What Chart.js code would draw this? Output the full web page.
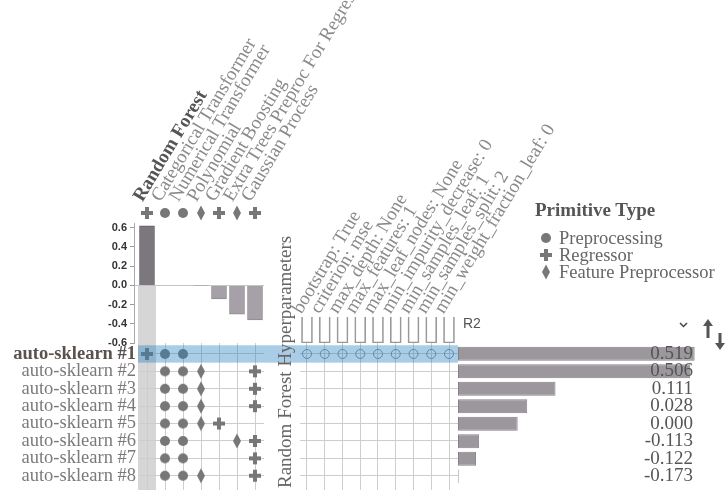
<!DOCTYPE html>
<html lang="es">
<head>
<meta charset="utf-8">
<title>Pipeline profiler</title>
<script src="https://cdn.jsdelivr.net/npm/chart.js@4.4.1/dist/chart.umd.min.js"></script>
<style>
  html, body { margin: 0; padding: 0; background: #fff; overflow: hidden; }
  #app { position: relative; width: 726px; height: 490px; overflow: hidden;
         font-family: "Liberation Serif", "Times New Roman", serif; }
  #app canvas { position: absolute; }
  .rot { position: absolute; white-space: nowrap; font-size: 19px; line-height: 18px;
         color: #8a8a8a; transform-origin: 0 100%; transform: rotate(-59deg); }
  .txt { position: absolute; white-space: nowrap; font-size: 18.5px; line-height: 20px; color: #666; }
</style>
</head>
<body>
<div id="app"></div>
<script>
// ---- Datos del gráfico ----
const primitives = ['Random Forest', 'Categorical Transformer', 'Numerical Transformer', 'Polynomial',
                    'Gradient Boosting', 'Extra Trees Preproc For Regression', 'Gaussian Process'];
const primitiveTypes = ['Regressor', 'Preprocessing', 'Preprocessing', 'Feature Preprocessor',
                        'Regressor', 'Feature Preprocessor', 'Regressor'];
const importance = [0.62, 0, 0, -0.005, -0.14, -0.30, -0.36];   // importancia de cada primitiva
const importanceTicks = [0.6, 0.4, 0.2, 0.0, -0.2, -0.4, -0.6];
const pipelines = ['auto-sklearn #1', 'auto-sklearn #2', 'auto-sklearn #3', 'auto-sklearn #4',
                   'auto-sklearn #5', 'auto-sklearn #6', 'auto-sklearn #7', 'auto-sklearn #8'];
// columnas (primitivas) que usa cada pipeline
const pipelineSteps = [[0, 1, 2], [1, 2, 3, 6], [1, 2, 3, 6], [1, 2, 3, 6],
                       [1, 2, 3, 4], [1, 2, 5, 6], [1, 2, 6], [1, 2, 3, 6]];
const hyperparams = ['bootstrap: True', 'criterion: mse', 'max_depth: None', 'max_features: 1',
                     'max_leaf_nodes: None', 'min_impurity_decrease: 0', 'min_samples_leaf: 1',
                     'min_samples_split: 2', 'min_weight_fraction_leaf: 0'];
const hyperFrame = [1, 1, 1, 1, 1, 1, 1, 1, 1];   // marcos vacíos sobre cada hiperparámetro
const r2Scores = [0.519, 0.506, 0.111, 0.028, 0.000, -0.113, -0.122, -0.173];
const legendTypes = ['Preprocessing', 'Regressor', 'Feature Preprocessor'];
const selectedPrimitive = 0;   // columna resaltada en gris
const selectedPipeline = 0;    // fila resaltada en azul

// ---- Estilos ----
const ICON_COLOR = '#777';
const GRID = '#cdcdcd';
const GRIS_SELECCION = '#d6d6d6';
const AZUL_SELECCION = 'rgba(40, 130, 192, 0.4)';
const SERIF = "'Liberation Serif', 'Times New Roman', serif";

const app = document.getElementById('app');

// Crea un canvas posicionado de forma absoluta y devuelve su contexto
function crearCanvas(left, top, width, height) {
    const c = document.createElement('canvas');
    c.width = width;
    c.height = height;
    c.style.left = left + 'px';
    c.style.top = top + 'px';
    c.style.width = width + 'px';
    c.style.height = height + 'px';
    app.appendChild(c);
    return c.getContext('2d');
}

// Dibuja el icono de cada tipo de primitiva (se usa como pointStyle)
function crearIcono(tipo) {
    const c = document.createElement('canvas');
    c.width = 14;
    c.height = 16;
    const g = c.getContext('2d');
    g.fillStyle = ICON_COLOR;
    if (tipo === 'Preprocessing') {
        g.beginPath();
        g.arc(7, 8, 5, 0, Math.PI * 2);
        g.fill();
    } else if (tipo === 'Regressor') {
        g.fillRect(1, 6, 12, 4);
        g.fillRect(5, 2, 4, 12);
    } else {
        g.beginPath();
        g.moveTo(7, 0.5);
        g.lineTo(11, 8);
        g.lineTo(7, 15.5);
        g.lineTo(3, 8);
        g.closePath();
        g.fill();
    }
    return c;
}
const iconos = {};
legendTypes.forEach(t => { iconos[t] = crearIcono(t); });

// Ajusta el tamaño de un eje y quita el relleno que Chart.js reserva para las etiquetas
const fijarEje = (ancho, alto) => axis => {
    if (ancho !== undefined) axis.width = ancho;
    if (alto !== undefined) axis.height = alto;
    axis.paddingTop = axis.paddingBottom = axis.paddingLeft = axis.paddingRight = 0;
};

const base = {
    responsive: false,
    animation: false,
    events: [],
    layout: { autoPadding: false, padding: 0 },
    plugins: { legend: { display: false }, tooltip: { enabled: false } }
};

// ---- Iconos de cabecera de cada primitiva ----
new Chart(crearCanvas(138, 204, 126, 18), {
    type: 'scatter',
    data: { datasets: [{
        data: primitives.map((p, i) => ({ x: i, y: 0.5 })),
        pointStyle: ctx => iconos[primitiveTypes[ctx.dataIndex]],
        pointRadius: 6,
        clip: false
    }] },
    options: { ...base, scales: {
        x: { type: 'linear', min: -0.5, max: 6.5, display: false },
        y: { min: 0, max: 1, display: false }
    } }
});

// ---- Barras de importancia de primitivas ----
const columnaGrisImportancia = {
    id: 'columnaGrisImportancia',
    beforeDraw(chart) {
        const { ctx, chartArea, scales: { x, y } } = chart;
        const izq = x.getPixelForValue(selectedPrimitive - 0.5);
        const der = x.getPixelForValue(selectedPrimitive + 0.5);
        const y0 = y.getPixelForValue(0);
        ctx.save();
        ctx.fillStyle = GRIS_SELECCION;
        ctx.fillRect(izq, y0, der - izq, chartArea.bottom - y0);
        ctx.restore();
    }
};

new Chart(crearCanvas(100, 215, 164, 136), {
    type: 'bar',
    data: { datasets: [{
        data: importance.map((v, i) => ({ x: i, y: v })),
        backgroundColor: importance.map(v => v > 0 ? '#7b777d' : '#a6a1a8'),
        borderColor: importance.map(v => v > 0 ? '#646066' : '#8f8a92'),
        borderWidth: 1,
        barThickness: 15
    }] },
    options: { ...base,
        layout: { autoPadding: false, padding: { top: 8, bottom: 8, left: 0, right: 0 } },
        scales: {
            x: { type: 'linear', offset: false, min: -0.722, max: 6.5, display: false },
            y: {
                min: -0.6, max: 0.65,
                afterBuildTicks: axis => { axis.ticks = importanceTicks.map(v => ({ value: v })); },
                afterFit: fijarEje(34),
                ticks: {
                    autoSkip: false,
                    callback: v => v.toFixed(1),
                    font: { family: "'Liberation Sans', Arial, sans-serif", size: 11, weight: 'bold' },
                    color: '#333',
                    padding: 3
                },
                grid: {
                    color: ctx => (ctx.tick && ctx.tick.value === 0) ? '#c4c4c4' : 'rgba(0,0,0,0)',
                    tickColor: '#999',
                    tickLength: 4
                },
                border: { color: '#aaa' }
            }
        }
    },
    plugins: [columnaGrisImportancia]
});

// ---- Matriz pipeline x primitiva ----
const puntosMatriz = [];
pipelineSteps.forEach((pasos, fila) => pasos.forEach(col => puntosMatriz.push({ x: col, y: fila })));

// Franja azul de la fila seleccionada (se dibuja encima de los símbolos)
const franjaAzul = (hastaBorde) => ({
    id: 'franjaAzul',
    afterDatasetsDraw(chart) {
        const { ctx, chartArea, scales: { x, y } } = chart;
        const arriba = y.getPixelForValue(selectedPipeline - 0.5);
        const abajo = y.getPixelForValue(selectedPipeline + 0.5);
        const izq = hastaBorde ? x.getPixelForValue(selectedPrimitive - 0.5) : chartArea.left;
        const der = hastaBorde ? chart.width : chartArea.right;
        ctx.save();
        ctx.fillStyle = AZUL_SELECCION;
        ctx.fillRect(izq, arriba, der - izq, abajo - arriba);
        ctx.restore();
    }
});

const columnaGrisMatriz = {
    id: 'columnaGrisMatriz',
    beforeDraw(chart) {
        const { ctx, chartArea, scales: { x } } = chart;
        const izq = x.getPixelForValue(selectedPrimitive - 0.5);
        const der = x.getPixelForValue(selectedPrimitive + 0.5);
        ctx.save();
        ctx.fillStyle = GRIS_SELECCION;
        ctx.fillRect(izq, chartArea.top, der - izq, chartArea.bottom - chartArea.top);
        ctx.restore();
    }
};

new Chart(crearCanvas(0, 343, 300, 147), {
    type: 'scatter',
    data: { datasets: [{
        data: puntosMatriz,
        pointStyle: ctx => iconos[primitiveTypes[ctx.raw.x]],
        pointRadius: 6,
        clip: false
    }] },
    options: { ...base,
        layout: { autoPadding: false, padding: { top: 0, bottom: 0, left: 0, right: 36 } },
        scales: {
            x: {
                type: 'linear', min: -0.5, max: 6.5,
                afterBuildTicks: axis => { axis.ticks = primitives.map((p, i) => ({ value: i })); },
                afterFit: fijarEje(undefined, 0),
                ticks: { display: false },
                grid: { color: GRID, drawTicks: false },
                border: { display: false }
            },
            y: {
                type: 'linear', reverse: true, min: -0.63, max: 7.82,
                afterBuildTicks: axis => { axis.ticks = pipelines.map((p, i) => ({ value: i })); },
                afterFit: fijarEje(138),
                ticks: {
                    autoSkip: false,
                    callback: v => pipelines[v],
                    font: ctx => ({ family: SERIF, size: 18.5, weight: ctx.index === selectedPipeline ? 'bold' : 'normal' }),
                    color: ctx => ctx.index === selectedPipeline ? '#5a524d' : '#7a7a7a',
                    padding: 2
                },
                grid: { color: GRID, drawTicks: false },
                border: { display: false }
            }
        }
    },
    plugins: [columnaGrisMatriz, franjaAzul(true)]
});

// ---- Marcos de hiperparámetros ----
new Chart(crearCanvas(300, 312, 158, 31), {
    type: 'bar',
    data: { datasets: [{
        data: hyperFrame.map((v, i) => ({ x: i, y: v })),
        backgroundColor: 'rgba(255,255,255,0)',
        borderColor: '#999',
        borderWidth: 1,
        borderSkipped: 'top',
        barThickness: 11
    }] },
    options: { ...base,
        layout: { autoPadding: false, padding: { top: 5, bottom: 0, left: 0, right: 0 } },
        scales: {
            x: { type: 'linear', offset: false, min: -0.394, max: 8.507, display: false },
            y: { min: 0, max: 1, display: false }
        }
    }
});

// ---- Matriz de hiperparámetros ----
const puntosHyper = [];
pipelineSteps.forEach((pasos, fila) => {
    if (pasos.includes(0)) hyperparams.forEach((h, col) => puntosHyper.push({ x: col, y: fila }));
});

new Chart(crearCanvas(300, 343, 158, 147), {
    type: 'scatter',
    data: { datasets: [{
        data: puntosHyper,
        pointStyle: 'circle',
        pointRadius: 4.5,
        backgroundColor: 'rgba(0,0,0,0)',
        borderColor: '#8a8a8a',
        borderWidth: 1
    }] },
    options: { ...base,
        scales: {
            x: {
                type: 'linear', min: -0.394, max: 8.507,
                afterBuildTicks: axis => { axis.ticks = hyperparams.map((h, i) => ({ value: i })); },
                afterFit: fijarEje(undefined, 0),
                ticks: { display: false },
                grid: { color: GRID, drawTicks: false },
                border: { display: false }
            },
            y: {
                type: 'linear', reverse: true, min: -0.63, max: 7.82,
                afterBuildTicks: axis => { axis.ticks = pipelines.map((p, i) => ({ value: i })); },
                afterFit: fijarEje(0),
                ticks: { display: false },
                grid: { color: GRID, drawTicks: false },
                border: { display: false }
            }
        }
    },
    plugins: [franjaAzul(false)]
});

// ---- Barras de R2 ----
new Chart(crearCanvas(458, 335, 268, 160), {
    type: 'bar',
    data: {
        labels: pipelines,
        datasets: [{
            data: r2Scores,
            base: -0.175,
            backgroundColor: '#9b979d',
            borderColor: '#858187',
            borderWidth: 1,
            borderSkipped: false,
            barPercentage: 0.8,
            categoryPercentage: 1
        }]
    },
    options: { ...base,
        indexAxis: 'y',
        layout: { autoPadding: false, padding: { top: 10, bottom: 10, left: 0, right: 31 } },
        scales: {
            x: { type: 'linear', min: -0.175, max: 0.52, display: false },
            y: {
                position: 'right',
                afterFit: fijarEje(0),
                ticks: {
                    z: 1,   // los valores se dibujan encima de las barras
                    autoSkip: false,
                    mirror: true,
                    padding: -2,
                    callback: (v, i) => r2Scores[i].toFixed(3),
                    font: { family: SERIF, size: 19 },
                    color: '#555'
                },
                grid: { display: false },
                border: { display: false }
            }
        }
    }
});

// ---- Textos en HTML ----
function agregarTexto(clase, texto, left, top, estilo) {
    const d = document.createElement('div');
    d.className = clase;
    d.textContent = texto;
    d.style.left = left + 'px';
    d.style.top = top + 'px';
    Object.assign(d.style, estilo || {});
    app.appendChild(d);
    return d;
}

// nombres de primitivas inclinados
primitives.forEach((p, i) => {
    const sel = i === selectedPrimitive;
    agregarTexto('rot', p, 147 + 18 * i - 2, 204 - 18,
        sel ? { fontWeight: 'bold', color: '#555' } : {});
});

// nombres de hiperparámetros inclinados
hyperparams.forEach((h, i) => {
    agregarTexto('rot', h, 307 + 17.75 * i - 3, 316 - 18);
});

// título vertical
agregarTexto('txt', 'Random Forest Hyperparameters', 276, 488, {
    fontSize: '19px', lineHeight: '18px', color: '#666', transformOrigin: '0 0', transform: 'rotate(-90deg)'
});

agregarTexto('txt', 'R2', 463, 315, {
    fontFamily: "'Liberation Sans', Arial, sans-serif", fontSize: '14px', lineHeight: '16px', color: '#555'
});

// leyenda
agregarTexto('txt', 'Primitive Type', 535, 200, { fontWeight: 'bold', color: '#555', fontSize: '19px' });
legendTypes.forEach((t, i) => {
    const centro = 238 + 17 * i;
    const ic = crearIcono(t);
    ic.style.left = '539px';
    ic.style.top = (centro - 8) + 'px';
    app.appendChild(ic);
    agregarTexto('txt', t, 559, centro - 10);
});

// iconos de orden
app.insertAdjacentHTML('beforeend',
    '<svg style="position:absolute;left:679px;top:322px" width="10" height="7">' +
    '<polyline points="1,1 4.5,4.5 8,1" fill="none" stroke="#444" stroke-width="1.5"/></svg>' +
    '<svg style="position:absolute;left:700px;top:317px" width="26" height="36">' +
    '<path d="M8 2 L3 9 H6.5 V21 H9.5 V9 H13 Z" fill="#555"/>' +
    '<path d="M20 33 L15 26 H18.5 V16 H21.5 V26 H25 Z" fill="#555"/></svg>');
</script>
</body>
</html>
